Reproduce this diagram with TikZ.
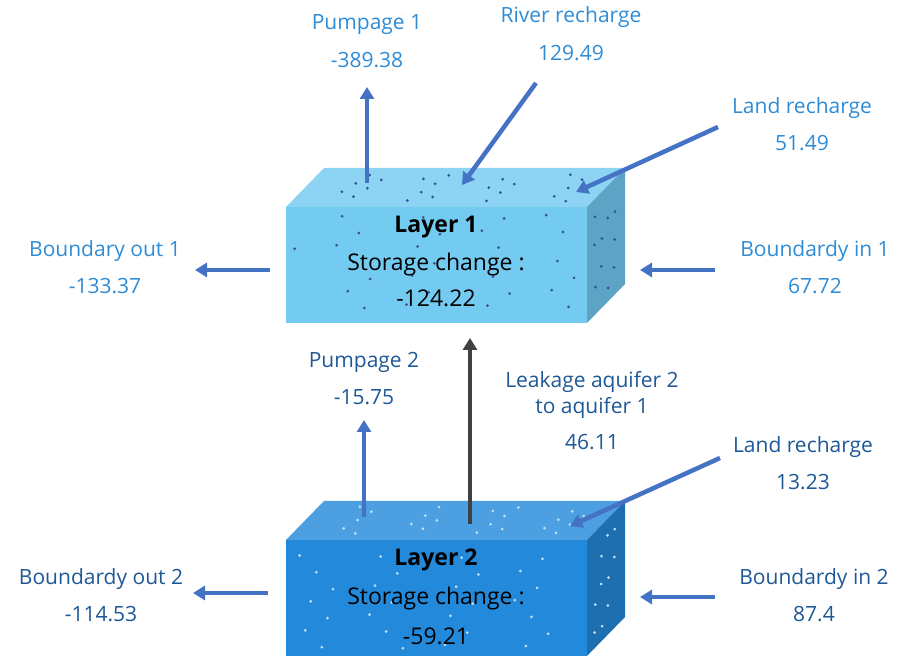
\documentclass[tikz,border=0pt]{standalone}
\usepackage{fontspec}
\setmainfont{Open Sans}
\usetikzlibrary{positioning,calc,arrows.meta}

\definecolor{upblue}{RGB}{46,140,214}
\definecolor{lowblue}{RGB}{30,88,150}
\definecolor{flowblue}{RGB}{68,114,196}
\definecolor{leakgrey}{RGB}{64,64,64}
\definecolor{frontA}{RGB}{116,203,241}
\definecolor{topA}{RGB}{141,212,244}
\definecolor{sideA}{RGB}{92,163,198}
\definecolor{frontB}{RGB}{35,137,218}
\definecolor{topB}{RGB}{76,159,224}
\definecolor{sideB}{RGB}{30,111,175}
\definecolor{dotA}{RGB}{52,80,150}
\definecolor{dotB}{RGB}{190,225,250}

\begin{document}
\begin{tikzpicture}[x=1pt,y=1pt,
    label1/.style={text=upblue,font=\fontsize{21}{21}\selectfont,inner sep=0pt},
    label2/.style={text=lowblue,font=\fontsize{21}{21}\selectfont,inner sep=0pt},
    boxtext/.style={text=black,font=\fontsize{23}{23}\selectfont,inner sep=0pt},
    front/.style={minimum width=301,minimum height=116,inner sep=0pt,outer sep=0pt},
    flow/.style={draw=flowblue,line width=4.5pt,-{Triangle[length=12pt,width=14pt]}},
    leak/.style={draw=leakgrey,line width=4.5pt,-{Triangle[length=12pt,width=14pt]}}]
    \useasboundingbox (0,0) rectangle (908,656);

    % layer 1
    \node[front,fill=frontA] (layer1) at (436.5,391) {};
    \fill[topA] (layer1.north west) -- (layer1.north east) -- ++(38,39) -- ($(layer1.north west)+(38,39)$) -- cycle;
    \fill[sideA] (layer1.north east) -- (layer1.south east) -- ++(38,39) -- ($(layer1.north east)+(38,39)$) -- cycle;
    \foreach \i [evaluate=\i as \dx using {8+285*mod(\i*0.7548777+0.13,1)}, evaluate=\i as \dy using {6+104*mod(\i*0.5698403+0.41,1)}] in {1,...,28}
        \fill[dotA] ($(layer1.south west)+(\dx,\dy)$) circle (1.5);
    \foreach \i [evaluate=\i as \dy using {5+30*mod(\i*0.5698403+0.2,1)}, evaluate=\i as \dx using {10+280*mod(\i*0.7548777+0.6,1)+\dy}] in {1,...,22}
        \fill[dotA] ($(layer1.north west)+(\dx,\dy)$) circle (1.5);
    \foreach \i [evaluate=\i as \dx using {6+26*mod(\i*0.7548777+0.3,1)}, evaluate=\i as \dy using {10+98*mod(\i*0.5698403+0.05,1)+\dx}] in {1,...,10}
        \fill[dotA] ($(layer1.south east)+(\dx,\dy)$) circle (1.5);

    % layer 2
    \node[front,fill=frontB] (layer2) at (436.5,58) {};
    \fill[topB] (layer2.north west) -- (layer2.north east) -- ++(38,39) -- ($(layer2.north west)+(38,39)$) -- cycle;
    \fill[sideB] (layer2.north east) -- (layer2.south east) -- ++(38,39) -- ($(layer2.north east)+(38,39)$) -- cycle;
    \foreach \i [evaluate=\i as \dx using {8+285*mod(\i*0.7548777+0.51,1)}, evaluate=\i as \dy using {6+104*mod(\i*0.5698403+0.77,1)}] in {1,...,28}
        \fill[dotB] ($(layer2.south west)+(\dx,\dy)$) circle (1.5);
    \foreach \i [evaluate=\i as \dy using {5+30*mod(\i*0.5698403+0.66,1)}, evaluate=\i as \dx using {10+280*mod(\i*0.7548777+0.09,1)+\dy}] in {1,...,22}
        \fill[dotB] ($(layer2.north west)+(\dx,\dy)$) circle (1.5);
    \foreach \i [evaluate=\i as \dx using {6+26*mod(\i*0.7548777+0.8,1)}, evaluate=\i as \dy using {10+98*mod(\i*0.5698403+0.35,1)+\dx}] in {1,...,10}
        \fill[dotB] ($(layer2.south east)+(\dx,\dy)$) circle (1.5);

    \node[boxtext,font=\fontsize{23}{23}\selectfont\bfseries] (name1) at (436,429) {Layer 1};
    \node[boxtext] (store1) at (436,391) {Storage change :};
    \node[boxtext] (val1) at (436,358) {-124.22};
    \node[boxtext,font=\fontsize{23}{23}\selectfont\bfseries] (name2) at (436,96) {Layer 2};
    \node[boxtext] (store2) at (436,57) {Storage change :};
    \node[boxtext] (val2) at (436,20) {-59.21};

    % labels
    \node[label1] (pump1) at (367,631) {Pumpage 1};
    \node[label1] (pump1v) at (367,596) {-389.38};
    \node[label1] (river) at (571,639) {River recharge};
    \node[label1] (riverv) at (571,603) {129.49};
    \node[label1] (land1) at (802,548) {Land recharge};
    \node[label1] (land1v) at (802,513) {51.49};
    \node[label1] (bout1) at (105,405) {Boundary out 1};
    \node[label1] (bout1v) at (105,370) {-133.37};
    \node[label1] (bin1) at (815,405) {Boundardy in 1};
    \node[label1] (bin1v) at (815,370) {67.72};

    \node[label2] (pump2) at (364,294) {Pumpage 2};
    \node[label2] (pump2v) at (364,259) {-15.75};
    \node[label2] (leak1) at (592,274) {Leakage aquifer 2};
    \node[label2] (leak2) at (592,248) {to aquifer 1};
    \node[label2] (leakv) at (592,214) {46.11};
    \node[label2] (land2) at (803,209) {Land recharge};
    \node[label2] (land2v) at (803,174) {13.23};
    \node[label2] (bout2) at (101,77) {Boundardy out 2};
    \node[label2] (bout2v) at (101,42) {-114.53};
    \node[label2] (bin2) at (814,77) {Boundardy in 2};
    \node[label2] (bin2v) at (814,42) {87.4};

    % arrow ends
    \coordinate (p1a) at (367,473);
    \coordinate (p1b) at (367,569);
    \coordinate (ra) at (536,573);
    \coordinate (rb) at (462,471);
    \coordinate (l1a) at (718,529);
    \coordinate (l1b) at (576,464);
    \coordinate (bo1a) at (270,386);
    \coordinate (bo1b) at (195,386);
    \coordinate (bi1a) at (715,386);
    \coordinate (bi1b) at (640,386);
    \coordinate (p2a) at (364,139);
    \coordinate (p2b) at (364,236);
    \coordinate (lka) at (470,132);
    \coordinate (lkb) at (470,318);
    \coordinate (l2a) at (720,198);
    \coordinate (l2b) at (570,130);
    \coordinate (bo2a) at (268,63);
    \coordinate (bo2b) at (193,63);
    \coordinate (bi2a) at (715,59);
    \coordinate (bi2b) at (640,59);

    \draw[flow] (p1a) -- (p1b);
    \draw[flow] (ra) -- (rb);
    \draw[flow] (l1a) -- (l1b);
    \draw[flow] (bo1a) -- (bo1b);
    \draw[flow] (bi1a) -- (bi1b);
    \draw[flow] (p2a) -- (p2b);
    \draw[leak] (lka) -- (lkb);
    \draw[flow] (l2a) -- (l2b);
    \draw[flow] (bo2a) -- (bo2b);
    \draw[flow] (bi2a) -- (bi2b);
\end{tikzpicture}
\end{document}
